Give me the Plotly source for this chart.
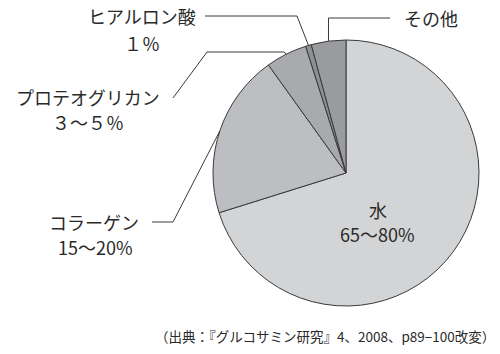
import math
import plotly.graph_objects as go

# ---- data ----
labels = ["水", "コラーゲン", "プロテオグリカン", "ヒアルロン酸", "その他"]
values = [70.1, 19.9, 5.0, 0.7, 4.2]
range_text = ["65～80%", "15～20%", "３～５％", "１％", ""]
colors = ["#d3d4d6", "#bdbec1", "#a9aaad", "#8e8f92", "#9a9b9e"]
source = "（出典：『グルコサミン研究』4、2008、p89−100改変）"

W, H = 500, 354
CX, CY, R = 346, 173, 133
FONT = "Noto Sans CJK JP"

def px(x):
    return x / W

def py(y):
    return 1 - y / H

fig = go.Figure(go.Pie(
    labels=labels, values=values, sort=False, direction="clockwise", rotation=0,
    marker=dict(colors=colors, line=dict(color="#3a3a3a", width=1)),
    textinfo="none", hoverinfo="label+percent", showlegend=False,
    domain=dict(x=[px(CX - R), px(CX + R)], y=[py(CY + R), py(CY - R)]),
))

# mid-angle anchors on the pie edge, computed from the data
total = sum(values)
anchors = []
cum = 0
for v in values:
    mid = (cum + v / 2) / total * 2 * math.pi
    anchors.append((CX + R * math.sin(mid), CY - R * math.cos(mid)))
    cum += v

# leader line bends (layout)
bends = {
    1: [(152, 222), (173, 222)],
    2: [(173, 98), (207, 52), (284, 52)],
    3: [(205, 16), (297, 16)],
    4: [(390, 18), (anchors[4][0], 18)],
}
shapes = []
for i, pts in bends.items():
    pts = pts + [anchors[i]]
    path = "M " + " L ".join(f"{px(x)},{py(y)}" for x, y in pts)
    shapes.append(dict(type="path", xref="paper", yref="paper", path=path,
                       line=dict(color="#3a3a3a", width=1)))

# label line positions (layout): name line, range line
label_pos = {
    0: [(378, 210), (377, 234)],
    1: [(94, 222), (95, 247)],
    2: [(88, 97), (88, 122)],
    3: [(142, 16), (142, 43)],
    4: [(431, 18)],
}
annotations = []
for i, posl in label_pos.items():
    texts = [labels[i], range_text[i]]
    for t, (x, y) in zip(texts, posl):
        if not t:
            continue
        annotations.append(dict(x=px(x), y=py(y), xref="paper", yref="paper",
                                text=t, showarrow=False, xanchor="center", yanchor="middle",
                                font=dict(family=FONT, size=18, color="#2a2a2a")))
annotations.append(dict(x=px(325), y=py(336), xref="paper", yref="paper", text=source,
                        showarrow=False, xanchor="center", yanchor="middle",
                        font=dict(family=FONT, size=13.5, color="#2a2a2a")))

fig.update_layout(width=W, height=H, margin=dict(l=0, r=0, t=0, b=0),
                  paper_bgcolor="white", plot_bgcolor="white",
                  shapes=shapes, annotations=annotations)
fig.write_html("out.html")
